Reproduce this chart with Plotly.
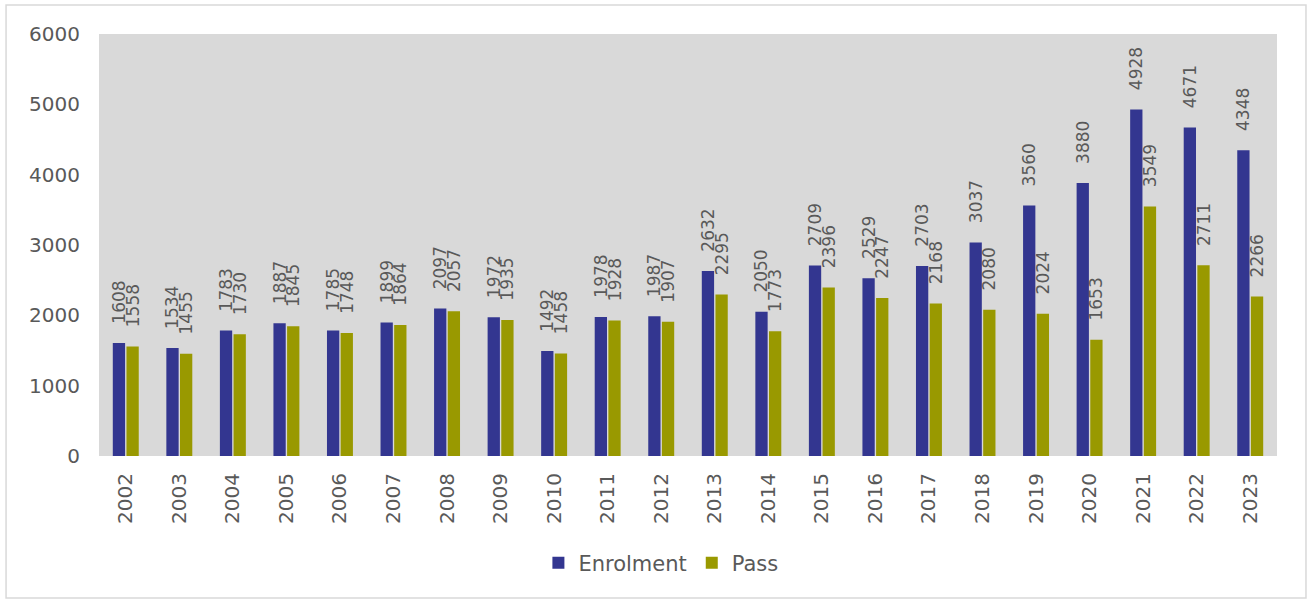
import plotly.graph_objects as go

years = [str(y) for y in range(2002, 2024)]
enrolment = [1608, 1534, 1783, 1887, 1785, 1899, 2097, 1972, 1492, 1978, 1987,
             2632, 2050, 2709, 2529, 2703, 3037, 3560, 3880, 4928, 4671, 4348]
passed = [1558, 1455, 1730, 1845, 1748, 1864, 2057, 1935, 1458, 1928, 1907,
          2295, 1773, 2396, 2247, 2168, 2080, 2024, 1653, 3549, 2711, 2266]

FONT = "DejaVu Sans"
GREY = "#595959"
pad = "\u00a0\u00a0\u00a0"

fig = go.Figure()
for name, vals, color in [("Enrolment", enrolment, "#333690"), ("Pass", passed, "#999900")]:
    fig.add_trace(go.Bar(
        x=years, y=vals, name=name,
        marker=dict(color=color, line=dict(width=0)),
        text=[pad + str(v) for v in vals],
        textposition="outside", textangle=-90,
        constraintext="none", cliponaxis=False,
        textfont=dict(family=FONT, size=17, color=GREY),
    ))

fig.update_layout(
    width=1309, height=601,
    margin=dict(l=99, r=32, t=34, b=145),
    paper_bgcolor="white", plot_bgcolor="#d9d9d9",
    barmode="group", bargap=0.49, bargroupgap=0.1,
    font=dict(family=FONT, color=GREY),
    showlegend=True,
    legend=dict(orientation="h", x=0.477, xanchor="center", y=-0.2536, yanchor="middle",
                font=dict(size=21, color=GREY), itemwidth=30,
                traceorder="normal"),
    xaxis=dict(type="category", tickangle=-90, tickfont=dict(size=20, color=GREY),
               showgrid=False, ticks="", showline=False, ticklabelstandoff=12),
    yaxis=dict(range=[0, 6000], dtick=1000, tickfont=dict(size=20, color=GREY),
               showgrid=False, zeroline=False, ticks="", showline=False,
               ticklabelstandoff=18),
    shapes=[dict(type="rect", xref="paper", yref="paper",
                 x0=-0.0789, x1=1.0246, y0=-0.3365, y1=1.0687,
                 line=dict(color="#d9d9d9", width=1.5), fillcolor="rgba(0,0,0,0)",
                 layer="below")],
)

fig.write_html("out.html")
